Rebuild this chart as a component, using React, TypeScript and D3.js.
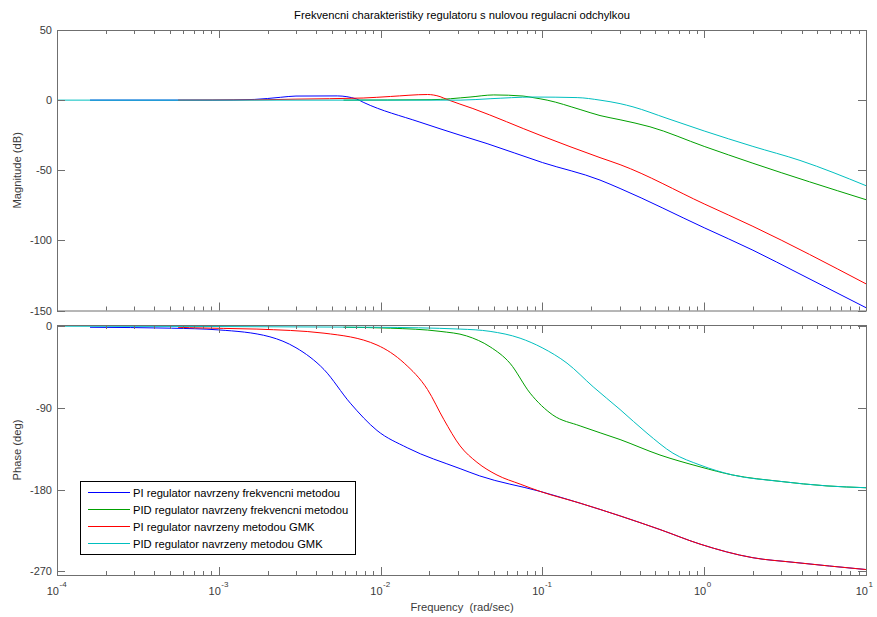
import React from "react";
import * as d3 from "d3";

const TITLE = "Frekvencni charakteristiky regulatoru s nulovou regulacni odchylkou";
const X_LABEL = "Frequency  (rad/sec)";
const MAG_LABEL = "Magnitude (dB)";
const PHASE_LABEL = "Phase (deg)";

const SERIES_NAMES = [
  "PI regulator navrzeny frekvencni metodou",
  "PID regulator navrzeny frekvencni metodou",
  "PI regulator navrzeny metodou GMK",
  "PID regulator navrzeny metodou GMK",
];
const SERIES_COLORS = ["#0000ff", "#00a000", "#ff0000", "#00bfbf"];

const X_DECADES = [-4, -3, -2, -1, 0, 1];
const MAG_TICKS = [50, 0, -50, -100, -150];
const PHASE_TICKS = [0, -90, -180, -270];

// PI - frekvencni metoda (blue)
const blueMagW = [1.6e-4, 9.1e-4, 1.66e-3, 2.4e-3, 3.0e-3, 5.4e-3, 7.1e-3, 7.8e-3, 0.0175, 0.031, 0.0455, 0.1, 0.227, 0.302, 1, 2.0, 3.91, 10];
const blueMagDb = [0, 0, 0.5, 2, 2.9, 3, 0.8, -1.5, -15.7, -25, -31, -44.5, -57, -63, -91, -107, -124, -148];
const bluePhW = [1.6e-4, 5.1e-4, 1e-3, 2.07e-3, 3.0e-3, 4.47e-3, 6.5e-3, 9.5e-3, 0.0146, 0.031, 0.041, 0.0966, 0.171, 0.302, 0.533, 0.942, 2.0, 3.54, 10];
const bluePhDeg = [-1.5, -2.5, -4.4, -12, -24, -48, -85, -115, -134, -157, -165, -182, -195, -209, -224, -240, -255, -260, -268];

// PID - frekvencni metoda (green)
const greenMagW = [5.9e-3, 0.0205, 0.0357, 0.05, 0.076, 0.0875, 0.107, 0.171, 0.227, 0.302, 0.462, 1, 2, 10];
const greenMagDb = [0, 0.3, 2.2, 3.7, 2.9, 1.8, 0, -6.7, -11, -14, -19, -33, -45, -71];
const greenPhW = [5.9e-3, 0.0115, 0.0233, 0.034, 0.0475, 0.063, 0.084, 0.116, 0.171, 0.302, 0.533, 0.942, 1.5, 2.94, 5.74, 10];
const greenPhDeg = [-1.5, -2.5, -6, -11, -23, -41, -74, -98, -110, -125, -142, -155, -164, -171, -176, -178];

// PI - metoda GMK (red)
const redMagW = [5.6e-4, 1.7e-3, 3.0e-3, 7.8e-3, 0.0115, 0.0195, 0.0233, 0.0257, 0.0372, 0.0966, 0.227, 0.302, 1, 2, 10];
const redMagDb = [0, 0.2, 0.7, 1.5, 2.6, 4, 2.5, 0.5, -6, -25, -41, -46, -74, -90, -131];
const redPhW = [5.6e-4, 6.6e-4, 1.72e-3, 4.47e-3, 9.5e-3, 0.014, 0.0195, 0.0246, 0.031, 0.0394, 0.0524, 0.0728, 0.0966, 0.171, 0.302, 0.533, 0.942, 2.0, 3.54, 10];
const redPhDeg = [-1.5, -2, -3.5, -8, -21, -41, -70, -103, -132, -150, -164, -174, -182, -195, -209, -224, -240, -255, -260, -268];

// PID - metoda GMK (cyan)
const cyanMagW = [1e-4, 0.031, 0.0475, 0.0875, 0.164, 0.227, 0.302, 0.363, 0.589, 1, 2, 3.91, 10];
const cyanMagDb = [0, 0, 1, 2.2, 1.8, 0, -2.5, -4.8, -13, -22, -33, -43, -61];
const cyanPhW = [1e-4, 9.5e-3, 0.031, 0.0475, 0.0728, 0.0996, 0.142, 0.206, 0.302, 0.443, 0.641, 0.942, 1.5, 2.94, 5.74, 10];
const cyanPhDeg = [-0.3, -1.5, -3.5, -6, -13.5, -24, -41, -67, -92, -118, -140, -153, -164, -171, -176, -178];

const SERIES = [
  { mw: blueMagW, mv: blueMagDb, pw: bluePhW, pv: bluePhDeg },
  { mw: greenMagW, mv: greenMagDb, pw: greenPhW, pv: greenPhDeg },
  { mw: redMagW, mv: redMagDb, pw: redPhW, pv: redPhDeg },
  { mw: cyanMagW, mv: cyanMagDb, pw: cyanPhW, pv: cyanPhDeg },
];

const FONT = "'Liberation Sans', Arial, sans-serif";
const AX = "#6f6f6f";
const TXT = "#3a3a3a";
const FS = 11.2;

export default function App() {
  const L = 57, R = 866;
  const magTop = 30, magBot = 310.5;
  const phTop = 325, phBot = 575;

  const x = d3.scaleLog().domain([1e-4, 10]).range([L, R]);
  const yMag = d3.scaleLinear().domain([-150, 50]).range([magBot, magTop]);
  const yPh = d3.scaleLinear().domain([-274, 1]).range([phBot, phTop]);

  const magLine = d3.line<[number, number]>().x(d => x(d[0])).y(d => yMag(d[1])).curve(d3.curveMonotoneX);
  const phLine = d3.line<[number, number]>().x(d => x(d[0])).y(d => yPh(d[1])).curve(d3.curveMonotoneX);

  const minor: number[] = [];
  for (let d = -4; d < 1; d++) for (let k = 2; k <= 9; k++) minor.push(k * Math.pow(10, d));
  const major = X_DECADES.map(e => Math.pow(10, e));

  const xTicks = (top: number, bot: number, key: string) => (
    <g key={key} stroke={AX} strokeWidth={1}>
      {major.map((v, i) => (
        <g key={"M" + i}>
          <line x1={Math.round(x(v)) + 0.5} x2={Math.round(x(v)) + 0.5} y1={top} y2={top + 8} />
          <line x1={Math.round(x(v)) + 0.5} x2={Math.round(x(v)) + 0.5} y1={bot} y2={bot - 8} />
        </g>
      ))}
      {minor.map((v, i) => (
        <g key={"m" + i}>
          <line x1={Math.round(x(v)) + 0.5} x2={Math.round(x(v)) + 0.5} y1={top} y2={top + 4} />
          <line x1={Math.round(x(v)) + 0.5} x2={Math.round(x(v)) + 0.5} y1={bot} y2={bot - 4} />
        </g>
      ))}
    </g>
  );

  const yTicks = (vals: number[], sc: (v: number) => number, key: string) => (
    <g key={key}>
      {vals.map((v, i) => {
        const yy = Math.round(sc(v)) + 0.5;
        return (
          <g key={i}>
            <line x1={L} x2={L + 8} y1={yy} y2={yy} stroke={AX} />
            <line x1={R} x2={R - 8} y1={yy} y2={yy} stroke={AX} />
            <text x={L - 5} y={yy + 3.8} textAnchor="end" fontSize={11} fill={TXT} fontFamily={FONT}>{v}</text>
          </g>
        );
      })}
    </g>
  );

  const legX = 80, legY = 481, legW = 275, legH = 73;

  return (
    <svg width={877} height={617} style={{ position: "absolute", left: 0, top: 0, background: "#fff" }}>
      <rect x={0} y={0} width={877} height={617} fill="#fff" />
      <defs>
        <clipPath id="cm"><rect x={L} y={magTop} width={R - L} height={magBot - magTop} /></clipPath>
        <clipPath id="cp"><rect x={L} y={phTop} width={R - L} height={phBot - phTop} /></clipPath>
      </defs>

      <text x={462} y={19} textAnchor="middle" fontSize={FS} fill="#000" fontFamily={FONT}>{TITLE}</text>

      {/* magnitude axes */}
      <g clipPath="url(#cm)">
        {SERIES.map((s, i) => (
          <path key={i} d={magLine(s.mw.map((w, j) => [w, s.mv[j]] as [number, number])) || ""} fill="none" stroke={SERIES_COLORS[i]} strokeWidth={1} />
        ))}
      </g>
      <rect x={L + 0.5} y={magTop + 0.5} width={R - L} height={magBot - magTop} fill="none" stroke={AX} />
      {xTicks(magTop, magBot, "xt1")}
      {yTicks(MAG_TICKS, yMag, "yt1")}
      <text transform={`translate(21,${(magTop + magBot) / 2}) rotate(-90)`} textAnchor="middle" fontSize={FS} fill={TXT} fontFamily={FONT}>{MAG_LABEL}</text>

      {/* phase axes */}
      <g clipPath="url(#cp)">
        {SERIES.map((s, i) => (
          <path key={i} d={phLine(s.pw.map((w, j) => [w, s.pv[j]] as [number, number])) || ""} fill="none" stroke={SERIES_COLORS[i]} strokeWidth={1} />
        ))}
      </g>
      <rect x={L + 0.5} y={phTop + 0.5} width={R - L} height={phBot - phTop} fill="none" stroke={AX} />
      {xTicks(phTop, phBot, "xt2")}
      {yTicks(PHASE_TICKS, yPh, "yt2")}
      <text transform={`translate(21,${(phTop + phBot) / 2}) rotate(-90)`} textAnchor="middle" fontSize={FS} fill={TXT} fontFamily={FONT}>{PHASE_LABEL}</text>

      {/* x tick labels */}
      {X_DECADES.map((e, i) => {
        const xx = x(Math.pow(10, e));
        return (
          <g key={i} fontFamily={FONT} fill={TXT}>
            <text x={xx + 2} y={595} textAnchor="end" fontSize={11}>10</text>
            <text x={xx + 2.5} y={587} textAnchor="start" fontSize={8}>{e}</text>
          </g>
        );
      })}
      <text x={462} y={611} textAnchor="middle" fontSize={FS} fill={TXT} fontFamily={FONT} style={{ whiteSpace: "pre" }}>{X_LABEL}</text>

      {/* legend */}
      <rect x={legX + 0.5} y={legY + 0.5} width={legW} height={legH} fill="#fff" stroke="#000" />
      {SERIES_NAMES.map((n, i) => {
        const yy = legY + 11.5 + i * 17;
        return (
          <g key={i}>
            <line x1={88} x2={130} y1={yy} y2={yy} stroke={SERIES_COLORS[i]} />
            <text x={133} y={yy + 4} fontSize={FS} fill="#000" fontFamily={FONT}>{n}</text>
          </g>
        );
      })}
    </svg>
  );
}
